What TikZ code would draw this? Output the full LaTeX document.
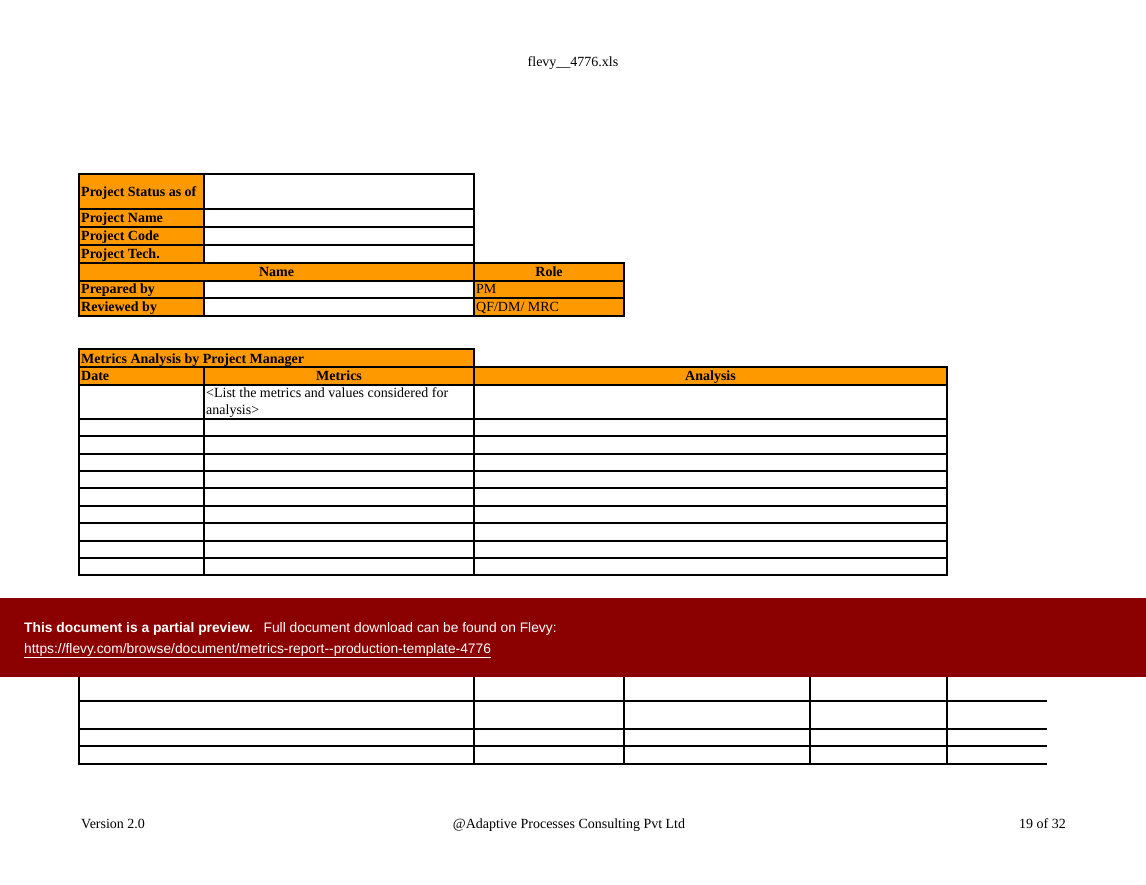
\documentclass[tikz,border=0pt]{standalone}
\usepackage{fontspec}
\setmainfont{Liberation Serif}
\newfontfamily\bannerfont{Liberation Sans}
\definecolor{cellorange}{HTML}{FF9900}
\definecolor{bannerred}{HTML}{8B0000}
\tikzset{
    grid line/.style = {line width = 1.6pt, line cap = rect},
    txt/.style = {inner sep = 0pt, font = \fontsize{14}{17}\selectfont},
    bold/.style = {inner sep = 0pt, font = \fontsize{14}{17}\selectfont\bfseries},
}
\begin{document}
\begin{tikzpicture}[x = 1pt, y = -1pt]
    \useasboundingbox (0,0) rectangle (1146,885);
    % page header
    \node[txt, anchor = base] (header) at (573,67) {flevy\_\_4776.xls};

    % status table
    \fill[cellorange] (79,174) rectangle (204,316);
    \fill[cellorange] (204,263) rectangle (624,281);
    \fill[cellorange] (474,281) rectangle (624,316);
    \begin{scope}[grid line]
        \foreach \y in {174, 209, 227, 245}
            \draw (79,\y) -- (474,\y);
        \foreach \y in {263, 281, 298, 316}
            \draw (79,\y) -- (624,\y);
        \draw (79,174) -- (79,316);
        \draw (204,174) -- (204,263);
        \draw (204,281) -- (204,316);
        \draw (474,174) -- (474,316);
        \draw (624,263) -- (624,316);
    \end{scope}
    \foreach \y/\t/\n in {197/Project Status as of/status, 223/Project Name/name, 241/Project Code/code, 259/Project Tech./tech, 294/Prepared by/prepared, 312/Reviewed by/reviewed}
        \node[bold, anchor = base west] (\n) at (81,\y) {\t};
    \node[bold, anchor = base] (namehead) at (276.5,277) {Name};
    \node[bold, anchor = base] (rolehead) at (549,277) {Role};
    \node[txt, anchor = base west] (pm) at (476,294) {PM};
    \node[txt, anchor = base west] (qf) at (476,312) {QF/DM/ MRC};

    % metrics analysis table
    \fill[cellorange] (79,349) rectangle (474,367);
    \fill[cellorange] (79,367) rectangle (947,385);
    \begin{scope}[grid line]
        \draw (79,349) -- (474,349);
        \foreach \y in {367, 385, 419, 436, 454, 471, 488, 506, 523, 541, 558, 575}
            \draw (79,\y) -- (947,\y);
        \draw (79,349) -- (79,575);
        \draw (204,367) -- (204,575);
        \draw (474,349) -- (474,575);
        \draw (947,367) -- (947,575);
    \end{scope}
    \node[bold, anchor = base west] (metricstitle) at (81,363) {Metrics Analysis by Project Manager};
    \node[bold, anchor = base west] (datehead) at (81,381) {Date};
    \node[bold, anchor = base] (metricshead) at (339,381) {Metrics};
    \node[bold, anchor = base] (analysishead) at (710.5,381) {Analysis};
    \node[txt, anchor = north west, align = left] (listnote) at (206,387) {<List the metrics and values considered for\\analysis>};

    % lower table, cut by the banner
    \begin{scope}[grid line]
        \foreach \x in {79, 474, 624, 810, 947}
            \draw (\x,677) -- (\x,764);
        \foreach \y in {701, 729, 746, 764}
            \draw (79,\y) -- (1046,\y);
    \end{scope}

    % preview banner
    \fill[bannerred] (0,598) rectangle (1146,677);
    \begin{scope}[every node/.append style = {inner sep = 0pt, text = white, font = \bannerfont\fontsize{13.8}{16}\selectfont}]
        \node[anchor = base west] (preview) at (24,632) {\textbf{This document is a partial preview.}\hspace{0.4em} Full document download can be found on Flevy:};
        \node[anchor = base west] (link) at (24,653) {\underline{https://flevy.com/browse/document/metrics-report--production-template-4776}};
    \end{scope}

    % page footer
    \node[txt, anchor = base west] (version) at (81,828) {Version 2.0};
    \node[txt, anchor = base] (company) at (569,828) {@Adaptive Processes Consulting Pvt Ltd};
    \node[txt, anchor = base east] (pageno) at (1066,828) {19 of 32};
\end{tikzpicture}
\end{document}
